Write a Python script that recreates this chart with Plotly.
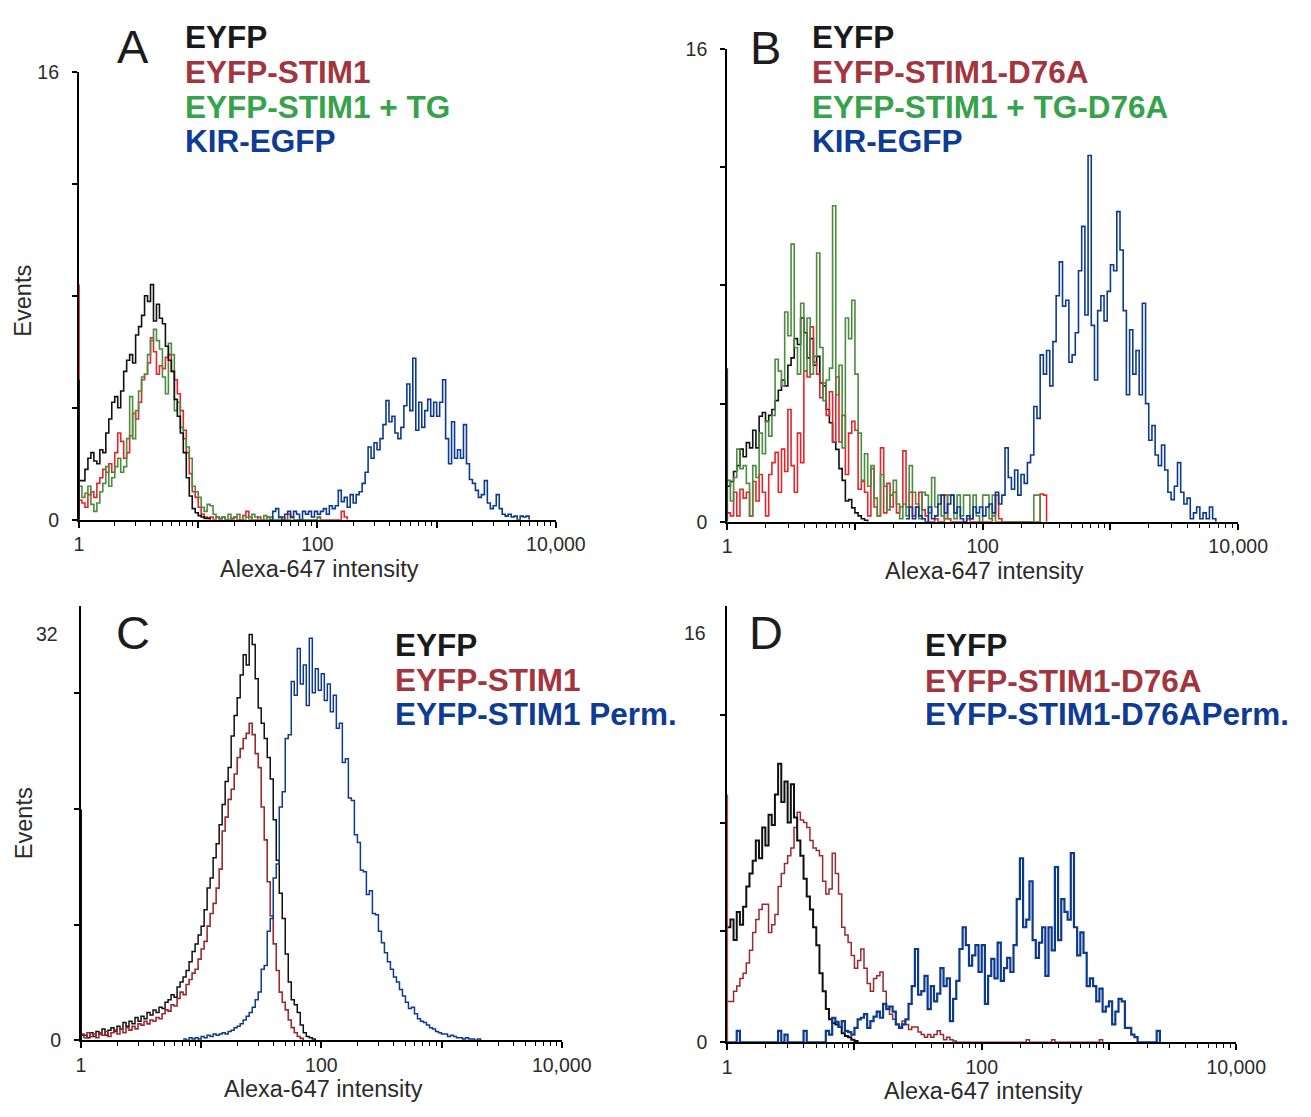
import plotly.graph_objects as go

W = 0.025  # histogram bin width (decades)

# ---------------- Panel A ----------------
a_names = ["EYFP", "EYFP-STIM1", "EYFP-STIM1 + TG", "KIR-EGFP"]
a_eyfp_spike = 5.0
a_eyfp = [1.4, 1.4, 1.8, 2.2, 2.4, 2.1, 2.0, 2.5, 2.4, 3.1, 3.6, 4.2, 4.4, 4.0, 4.6, 5.3, 5.7, 5.9, 5.6, 6.6,
          6.9, 7.3, 8.0, 7.8, 8.4, 7.1, 7.7, 7.2, 7.0, 6.2, 5.7, 5.3, 4.3, 3.7, 3.1, 2.4, 1.5, 0.85, 0.4, 0.25,
          0.15, 0.1, 0.05, 0.05, 0]
a_stim1_spike = 8.4
a_stim1 = [0.7, 0.6, 0.45, 0.9, 1.0, 0.8, 1.3, 1.5, 1.8, 1.7, 2.0, 1.7, 2.4, 3.1, 2.8, 2.2, 2.4, 3.0, 3.8, 3.6,
           4.2, 5.0, 5.2, 5.6, 6.5, 6.0, 5.2, 5.5, 5.4, 5.8, 5.9, 5.3, 5.0, 4.5, 3.9, 3.2, 2.4, 1.65, 1.0, 0.8,
           0.45, 0.2, 0.1, 0.05, 0.1, 0, 0.1, 0, 0.1, 0, 0, 0.05, 0.1, 0, 0, 0.15, 0.3, 0.1, 0, 0,
           0.1, 0, 0, 0.1, 0, 0, 0, 0, 0.1, 0, 0.2, 0.1, 0, 0, 0, 0, 0, 0, 0, 0,
           0.1, 0, 0, 0, 0, 0, 0, 0, 0.3, 0.1, 0]
a_stim1_tg = [1.2, 0.8, 0.95, 1.2, 0.55, 0.3, 0.6, 1.0, 1.3, 1.9, 1.2, 1.5, 1.9, 2.2, 1.7, 1.9, 2.9, 4.4, 2.9, 3.9,
              4.6, 5.1, 5.2, 5.9, 6.4, 6.8, 6.4, 6.1, 5.1, 4.5, 6.3, 5.9, 3.9, 4.2, 3.3, 2.9, 2.6, 2.2, 1.2, 1.0,
              0.8, 0.45, 0.3, 0.55, 0.5, 0.2, 0.1, 0.05, 0.1, 0, 0.2, 0, 0.1, 0.2, 0, 0, 0.1, 0, 0.2, 0.1,
              0, 0, 0.15, 0, 0.1, 0, 0, 0.1, 0, 0, 0, 0.1, 0, 0, 0, 0, 0, 0, 0, 0, 0.1, 0]
a_kir_start = 1.6
a_kir = [0, 0.3, 0.4, 0.1, 0, 0.2, 0.3, 0.1, 0.3, 0.2, 0, 0.3, 0.2, 0.3, 0.1, 0.3, 0.2, 0.3, 0.4, 0.2,
         0.5, 0.4, 0.5, 1.05, 0.65, 0.8, 0.45, 0.9, 0.6, 0.9, 1.0, 1.3, 1.7, 2.6, 2.2, 2.75, 2.5, 2.9, 3.4, 4.26,
         3.5, 3.7, 3.1, 2.9, 3.3, 4.07, 4.85, 3.9, 5.77, 3.2, 4.2, 3.3, 3.9, 4.3, 3.7, 4.2, 3.7, 4.2, 5.0, 2.9,
         2.0, 3.5, 2.2, 2.5, 2.2, 3.4, 2.0, 1.44, 1.3, 1.05, 0.8, 0.9, 1.4, 0.6, 0.4, 0.5, 0.9, 0.4, 0.2, 0.13,
         0.2, 0.1, 0.13, 0, 0.13, 0.1, 0.13, 0]

# ---------------- Panel B ----------------
b_names = ["EYFP", "EYFP-STIM1-D76A", "EYFP-STIM1 + TG-D76A", "KIR-EGFP"]
b_eyfp_spike = 5.2
b_eyfp = [1.2, 1.36, 1.7, 1.9, 2.46, 2.2, 2.68, 2.5, 3.1, 2.5, 3.57, 3.7, 3.4, 3.6, 3.8, 4.1, 4.45, 4.8, 4.6, 5.3,
          5.55, 6.2, 6.0, 6.9, 6.4, 5.55, 6.2, 5.3, 5.6, 4.7, 4.6, 3.8, 3.35, 2.7, 2.45, 1.8, 1.4, 0.7, 0.75, 0.47,
          0.3, 0.2, 0.1, 0.05, 0]
b_d76a = [0.3, 0.2, 1.0, 0.2, 1.1, 0.8, 1.0, 0.2, 1.36, 0.7, 1.6, 1.0, 0.2, 1.6, 2.0, 2.35, 1.0, 2.46, 1.7, 3.8,
          1.9, 1.0, 3.0, 2.0, 5.1, 4.9, 6.6, 5.4, 5.0, 4.2, 4.7, 3.6, 4.4, 2.7, 4.9, 2.7, 3.6, 1.6, 3.0, 3.4,
          3.1, 1.1, 1.36, 1.0, 0.2, 1.8, 0.5, 0.2, 2.5, 0.3, 1.3, 0.5, 1.0, 0.3, 0.5, 2.4, 0.5, 1.0, 0.2, 0.5,
          1.0, 0.4, 0.2, 0, 0, 0.1, 0, 0, 0.9, 0.1, 0, 0, 0, 0, 0, 0.1, 0, 0, 0, 0,
          0, 0, 0, 0.2, 0.9, 0.1, 0, 0, 0, 0, 0, 0, 0, 0, 0, 0, 0, 0, 0.94, 0.9, 0]
b_tg_d76a = [1.4, 0.7, 1.5, 2.46, 1.8, 1.9, 1.3, 0.2, 1.9, 1.5, 3.0, 2.3, 3.4, 2.9, 3.6, 5.5, 5.1, 4.6, 7.1, 6.3,
             9.4, 5.9, 5.0, 7.4, 5.1, 6.9, 5.0, 5.6, 9.1, 5.9, 4.1, 4.8, 5.2, 10.7, 4.3, 5.3, 2.5, 6.9, 6.2, 7.5,
             5.0, 3.0, 1.4, 2.3, 1.2, 1.9, 0.8, 0.2, 1.6, 1.2, 0.4, 0.9, 1.4, 0.6, 0.1, 0.6, 0.2, 1.9, 1.0, 0.6,
             0.1, 1.0, 0.9, 0.3, 1.5, 0.5, 0.9, 0.2, 0.1, 0.9, 0.9, 0.1, 0.9, 0.2, 0.9, 0.9, 0.1, 0.9, 0.2, 0,
             0.9, 0.9, 0.1, 0.9, 0, 0, 0, 0, 0, 0, 0, 0, 0, 0, 0, 0, 0.9, 0.9, 0]
b_kir_start = 1.4
b_kir = [0.1, 0.5, 0.1, 0.5, 0.2, 0.1, 0, 0.5, 0.1, 0.2, 0.6, 0.9, 0.3, 0.6, 0.9, 0.3, 0.5, 0.1, 0, 0.2,
         0.1, 0.5, 0.3, 0.5, 0.2, 0.5, 0.6, 0.3, 1.0, 0.6, 0.9, 2.5, 1.5, 1.1, 1.75, 0.9, 1.6, 1.3, 2.0, 2.26,
         3.9, 3.5, 5.65, 5.0, 5.8, 4.6, 6.1, 7.65, 8.8, 7.3, 7.5, 5.4, 5.65, 6.4, 8.5, 10.0, 7.0, 12.4, 6.65, 4.8,
         7.15, 7.65, 6.8, 7.8, 8.7, 8.5, 10.5, 9.2, 7.15, 4.3, 6.5, 5.0, 5.8, 4.3, 7.4, 4.0, 2.76, 3.26, 2.26, 1.9,
         2.6, 1.75, 1.0, 0.75, 1.2, 2.0, 1.0, 0.6, 0.8, 0.1, 0.3, 0.5, 0.1, 0.3, 0.1, 0.5, 0.1, 0]

# ---------------- Panel C ----------------
c_names = ["EYFP", "EYFP-STIM1", "EYFP-STIM1 Perm."]
c_eyfp_spike = 18.2
c_eyfp = [0.4, 0.4, 0.2, 0.6, 0.3, 0.7, 0.5, 0.9, 0.4, 0.8, 1.0, 0.7, 1.1, 0.9, 1.4, 1.1, 1.5, 1.3, 1.8, 1.5,
          1.9, 1.7, 2.2, 2.0, 2.4, 2.2, 2.6, 2.5, 3.0, 3.2, 3.6, 3.4, 4.2, 4.6, 5.0, 5.5, 6.2, 7.0, 7.6, 8.3,
          9.0, 10.3, 12.0, 12.8, 14.4, 15.5, 17.0, 18.6, 20.4, 21.5, 24.0, 25.6, 27.0, 28.8, 30.4, 29.6, 32.0, 31.2,
          28.5, 26.2, 25.0, 23.8, 22.3, 20.6, 17.4, 14.2, 11.6, 9.6, 6.8, 4.6, 3.2, 2.8, 2.2, 1.2, 0.6, 0.3,
          0.2, 0.1, 0]
c_stim1 = [0.5, 0.2, 0.6, 0.3, 0.5, 0.2, 0.6, 0.4, 0.7, 0.3, 0.6, 0.8, 0.5, 0.9, 0.6, 1.0, 0.8, 1.1, 0.9, 1.3,
           1.2, 1.5, 1.3, 1.6, 1.5, 1.8, 1.7, 2.1, 2.4, 2.3, 2.8, 2.7, 3.3, 3.8, 3.6, 4.4, 4.8, 5.3, 5.6, 6.4,
           7.2, 7.8, 9.0, 10.0, 10.8, 12.0, 13.5, 16.5, 17.6, 19.0, 19.8, 21.0, 22.3, 23.0, 23.8, 24.2, 25.0, 24.1,
           22.6, 21.5, 18.4, 15.8, 12.5, 9.8, 7.6, 5.5, 3.8, 3.0, 2.4, 1.6, 1.0, 0.6, 0.3, 0.15, 0]
c_perm_start = 0.85
c_perm = [0.1, 0.0, 0.2, 0.1, 0.2, 0.1, 0.3, 0.2, 0.4, 0.3, 0.5, 0.4, 0.5, 0.6, 0.5, 0.7, 0.8, 1.0, 1.1, 1.3,
          1.6, 1.9, 2.2, 2.6, 3.2, 3.8, 5.6, 5.9, 8.6, 9.6, 12.8, 13.9, 18.4, 19.6, 23.8, 24.1, 28.3, 27.2, 30.9, 28.1,
          29.6, 26.4, 31.7, 27.4, 29.3, 27.6, 28.9, 26.8, 28.1, 25.9, 27.2, 24.6, 25.0, 21.9, 22.2, 19.1, 18.9, 16.2,
          15.6, 13.4, 13.3, 11.5, 11.8, 10.0, 9.9, 8.6, 7.7, 6.9, 6.2, 5.6, 5.0, 4.6, 4.0, 3.5, 3.0, 2.5, 2.6,
          2.1, 1.7, 1.5, 1.4, 1.2, 1.0, 0.9, 0.7, 0.6, 0.5, 0.5, 0.3, 0.4, 0.3, 0.2, 0.2, 0.1, 0.2, 0.1, 0.1,
          0.0, 0.1, 0.0]

# ---------------- Panel D ----------------
d_names = ["EYFP", "EYFP-STIM1-D76A", "EYFP-STIM1-D76APerm."]
d_eyfp = [4.5, 4.8, 4.0, 5.1, 4.6, 5.3, 6.1, 6.6, 7.1, 7.9, 7.2, 8.4, 7.7, 8.9, 8.5, 9.7, 10.9, 9.4, 10.2, 8.6,
          10.1, 8.8, 7.9, 7.3, 6.4, 5.7, 5.2, 4.5, 3.8, 2.7, 2.0, 1.3, 0.9, 0.75, 0.7, 0.6, 0.35, 0.25, 0.2, 0.1,
          0.05, 0]
d_d76a_spike = 9.7
d_d76a = [1.6, 1.6, 2.0, 2.2, 2.5, 2.7, 3.1, 3.6, 4.3, 4.8, 5.2, 5.4, 5.4, 4.3, 4.6, 5.0, 6.1, 6.6, 7.0, 7.3,
          7.6, 8.4, 9.0, 8.7, 8.6, 8.4, 7.9, 7.6, 7.5, 7.3, 6.3, 5.8, 6.0, 7.4, 6.6, 5.8, 4.5, 4.2, 3.9, 3.4,
          2.9, 3.2, 3.65, 2.9, 2.3, 2.0, 2.5, 2.6, 2.75, 2.0, 1.4, 1.1, 0.9, 0.7, 0.6, 0.83, 0.7, 0.5, 0.6, 0.6,
          0.4, 0.3, 0.2, 0.3, 0.2, 0.3, 0.45, 0.3, 0.1, 0.2, 0.1, 0.05, 0, 0, 0, 0, 0, 0, 0, 0,
          0, 0, 0, 0, 0, 0, 0, 0, 0, 0, 0, 0, 0, 0, 0.1, 0, 0, 0, 0, 0, 0, 0, 0.1, 0, 0,
          0, 0, 0, 0, 0, 0, 0, 0, 0, 0, 0, 0, 0.1, 0]
d_perm = [0, 0, 0, 0.45, 0, 0, 0, 0, 0, 0, 0, 0, 0, 0, 0, 0, 0.45, 0, 0.3, 0,
          0, 0, 0, 0, 0.45, 0, 0, 0, 0, 0, 0, 0.45,
          0.3, 0.96, 0.8, 0.6, 0.83, 0.45, 0.4, 0.3, 0.56, 0.9, 0.96, 1.1, 0.56, 0.83, 1.0, 1.2, 0.96, 1.5, 1.3, 1.4,
          1.2, 0.7, 0.56, 0.7, 0.9, 1.5, 2.2, 3.65, 1.86, 2.0, 2.6, 1.3, 2.2, 1.6, 1.9, 2.9, 2.2, 2.5, 0.83, 1.7,
          2.4, 3.65, 4.5, 3.8, 3.0, 3.4, 3.8, 2.75, 3.8, 1.5, 2.6, 3.26, 2.5, 3.9, 2.4, 2.9, 3.3, 2.75, 3.8, 5.6,
          7.2, 4.5, 4.8, 6.3, 4.0, 3.3, 3.9, 4.5, 2.6, 4.5, 3.6, 6.85, 4.0, 5.6, 5.1, 4.8, 7.4, 4.5, 3.4, 4.3,
          3.5, 2.2, 2.5, 2.2, 1.6, 2.1, 1.2, 1.4, 1.6, 0.7, 1.2, 1.7, 1.6, 0.56, 0.56, 0.3, 0.2, 0, 0, 0,
          0, 0, 0, 0.45, 0]

# axis tick labels
x_tickvals = [1, 10, 100, 1000, 10000]
x_ticktext = ["1", "", "100", "", "10,000"]
x_title = "Alexa-647 intensity"
y_title = "Events"

# ---------------- styling ----------------
FIG_W, FIG_H = 1311, 1117
FONT = "Liberation Sans, Arial, Helvetica, sans-serif"
TXT = "#2b2b2b"
COL_BLACK = "#101010"
COL_RED_BRIGHT = "#e2262d"
COL_RED_DARK = "#9b2a30"
COL_GREEN = "#4b8c3e"
COL_BLUE = "#0c3a8f"
LEG_BLACK = "#1a1a1a"
LEG_RED = "#a3353e"
LEG_GREEN = "#36a24b"
LEG_BLUE = "#0e3b93"

# pixel geometry of the four plot boxes: (x at 1, x at 10000, y at 0, y at top)
geom = {
    1: dict(x0=76, x1=566, y0=519, y1=62, ymax=16.0),
    2: dict(x0=742, x1=1267, y0=521, y1=39, ymax=16.0),
    3: dict(x0=78, x1=572, y0=1050, y1=607, ymax=34.24),
    4: dict(x0=742, x1=1265, y0=1052, y1=607, ymax=17.07),
}


def px(x):
    return x / FIG_W


def py(y):
    return 1 - y / FIG_H


def bins(start, n):
    return [10 ** (start + i * W) for i in range(n)]


fig = go.Figure()


def add_hist(k, start, vals, color, width=1.6):
    fig.add_trace(go.Scatter(x=bins(start, len(vals)), y=vals, mode="lines",
                             line=dict(color=color, width=width, shape="hv"),
                             xaxis="x%d" % k if k > 1 else "x", yaxis="y%d" % k if k > 1 else "y",
                             showlegend=False, hoverinfo="skip"))


def add_spike(k, val, color, width=1.8):
    fig.add_trace(go.Scatter(x=[1, 1], y=[0, val], mode="lines", line=dict(color=color, width=width),
                             xaxis="x%d" % k if k > 1 else "x", yaxis="y%d" % k if k > 1 else "y",
                             showlegend=False, hoverinfo="skip"))


# Panel A
add_hist(1, 0, a_stim1, COL_RED_BRIGHT)
add_hist(1, 0, a_stim1_tg, COL_GREEN)
add_hist(1, 0, a_eyfp, COL_BLACK)
add_hist(1, a_kir_start, a_kir, COL_BLUE)
add_spike(1, a_stim1_spike, COL_RED_BRIGHT)
add_spike(1, a_eyfp_spike, COL_BLACK)
# Panel B
add_hist(2, 0, b_eyfp, COL_BLACK)
add_hist(2, 0, b_d76a, COL_RED_BRIGHT)
add_hist(2, 0, b_tg_d76a, COL_GREEN)
add_hist(2, b_kir_start, b_kir, COL_BLUE)
add_spike(2, b_eyfp_spike, COL_BLACK)
# Panel C
add_hist(3, 0, c_eyfp, COL_BLACK, 1.5)
add_hist(3, 0, c_stim1, COL_RED_DARK, 1.6)
add_hist(3, c_perm_start, c_perm, COL_BLUE, 1.5)
add_spike(3, c_eyfp_spike, COL_BLACK, 2.2)
# Panel D
add_hist(4, 0, d_d76a, COL_RED_DARK, 1.5)
add_hist(4, 0, d_eyfp, COL_BLACK, 2.0)
add_hist(4, 0, d_perm, COL_BLUE, 2.2)
add_spike(4, d_d76a_spike, COL_RED_DARK)

minor_x = [m * 10 ** e for e in range(4) for m in range(2, 10)]
tickfont = dict(family=FONT, size=19.5, color=TXT)

layout = dict(width=FIG_W, height=FIG_H, margin=dict(l=0, r=0, t=0, b=0),
              paper_bgcolor="white", plot_bgcolor="rgba(0,0,0,0)", showlegend=False)

y_minor = {1: [4, 8, 12], 2: [4, 8, 12], 3: [9.12, 18.24, 27.36], 4: [4.34, 8.6, 12.82]}
y_major = {1: ([0, 16], ["0", "16"]), 2: ([0, 16], ["0", "16"]), 3: ([0], ["0"]), 4: ([0], ["0"])}

for k, g in geom.items():
    xs = "xaxis" if k == 1 else "xaxis%d" % k
    ys = "yaxis" if k == 1 else "yaxis%d" % k
    layout[xs] = dict(type="log", range=[0, 4], domain=[px(g["x0"]), px(g["x1"])],
                      anchor="y" if k == 1 else "y%d" % k,
                      showline=True, linecolor="black", linewidth=2, mirror=False,
                      ticks="outside", ticklen=6, tickwidth=1.5, tickcolor="black",
                      tickmode="array", tickvals=x_tickvals, ticktext=x_ticktext,
                      minor=dict(tickmode="array", tickvals=minor_x, ticks="outside", ticklen=4,
                                 tickwidth=1.3, tickcolor="black"),
                      showgrid=False, zeroline=False, tickfont=tickfont, ticklabelstandoff=0,
                      layer="above traces", fixedrange=True)
    tv, tt = y_major[k]
    layout[ys] = dict(range=[0, g["ymax"]], domain=[py(g["y0"]), py(g["y1"])],
                      anchor="x" if k == 1 else "x%d" % k,
                      showline=True, linecolor="black", linewidth=2,
                      ticks="outside", ticklen=5, tickwidth=1.5, tickcolor="black",
                      tickmode="array", tickvals=tv, ticktext=tt,
                      minor=dict(tickmode="array", tickvals=y_minor[k], ticks="outside", ticklen=5,
                                 tickwidth=1.5, tickcolor="black"),
                      showgrid=False, zeroline=False, tickfont=tickfont, ticklabelstandoff=9,
                      layer="below traces", fixedrange=True)

fig.update_layout(**layout)

ann = []
# top labels for C and D y axes (label not on a tick)
ann.append(dict(text="32", x=px(56), xref="paper", y=32, yref="y3", xanchor="right", yanchor="middle",
                showarrow=False, font=tickfont))
ann.append(dict(text="16", x=px(722), xref="paper", y=16, yref="y4", xanchor="right", yanchor="middle",
                showarrow=False, font=tickfont))

# axis titles
for k, g in geom.items():
    ann.append(dict(text=x_title, x=px((g["x0"] + g["x1"]) / 2 + 2), xref="paper",
                    y=py(g["y0"] + 50), yref="paper", xanchor="center", yanchor="middle",
                    showarrow=False, font=dict(family=FONT, size=23.5, color=TXT)))
for yc in (295, 828):
    ann.append(dict(text=y_title, x=px(19), xref="paper", y=py(yc), yref="paper", textangle=-90,
                    xanchor="center", yanchor="middle", showarrow=False,
                    font=dict(family=FONT, size=23.5, color=TXT)))

# panel letters
for letter, (cx, cy) in zip("ABCD", [(132, 36), (781, 37), (131, 634), (782, 634)]):
    ann.append(dict(text=letter, x=px(cx), y=py(cy), xref="paper", yref="paper", xanchor="center",
                    yanchor="middle", showarrow=False, font=dict(family=FONT, size=47, color="#1c1c1c")))

# legends
legends = [
    (183, [26.5, 62.5, 98, 133], a_names, [LEG_BLACK, LEG_RED, LEG_GREEN, LEG_BLUE]),
    (827, [26.5, 62.5, 98, 133], b_names, [LEG_BLACK, LEG_RED, LEG_GREEN, LEG_BLUE]),
    (399, [646.5, 682, 717.5], c_names, [LEG_BLACK, LEG_RED, LEG_BLUE]),
    (943, [646.5, 683, 717.5], d_names, [LEG_BLACK, LEG_RED, LEG_BLUE]),
]
for x0, ys_, names, cols in legends:
    for yy, name, col in zip(ys_, names, cols):
        ann.append(dict(text="<b>%s</b>" % name, x=px(x0), y=py(yy), xref="paper", yref="paper",
                        xanchor="left", yanchor="middle", showarrow=False,
                        font=dict(family=FONT, size=31.5, color=col)))

fig.update_layout(annotations=ann)
fig.write_html("out.html",
               post_script="document.body.style.margin='0px';document.body.style.overflow='hidden';")
